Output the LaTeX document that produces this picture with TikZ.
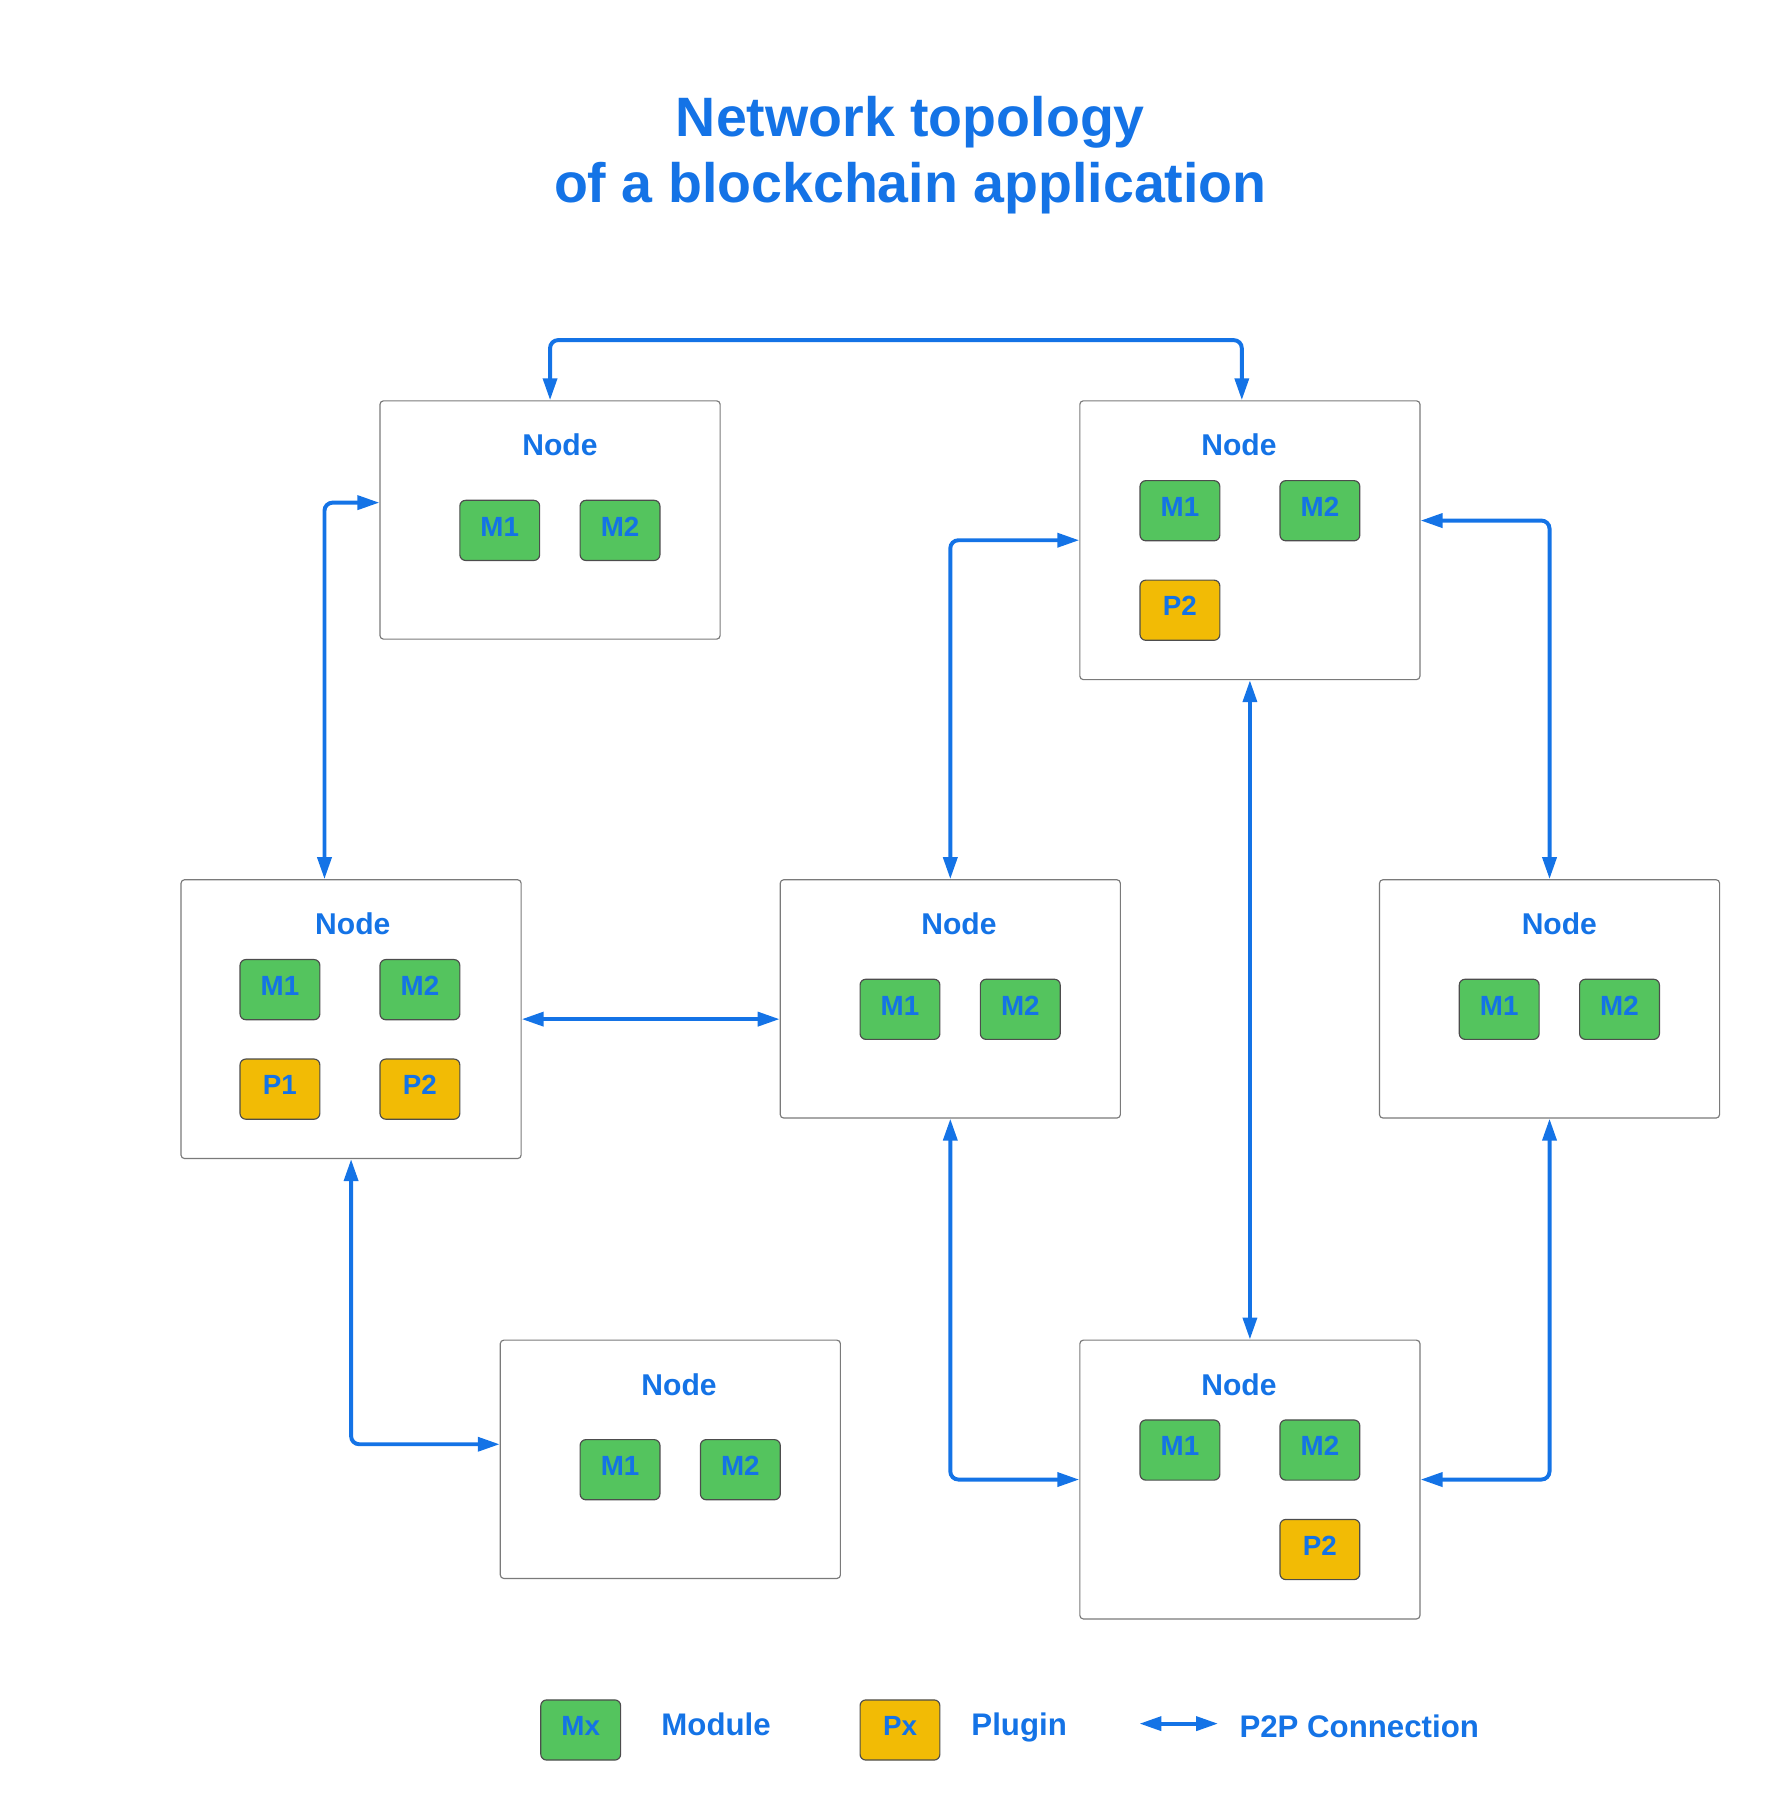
\documentclass[tikz,border=0pt]{standalone}
\usepackage{fontspec}
\setmainfont{Liberation Sans}
\usetikzlibrary{arrows.meta}

\definecolor{netblue}{HTML}{1473E6}
\definecolor{modgreen}{HTML}{54C45E}
\definecolor{plugyellow}{HTML}{F2BB05}
\definecolor{boxgray}{HTML}{7A7A7A}
\definecolor{modgray}{HTML}{4D4D4D}

\tikzstyle{nd} = [draw=boxgray, line width=1pt, rounded corners=3pt, minimum width=294pt, anchor=north west, inner sep=0pt]
\tikzstyle{ndt} = [text=netblue, anchor=base, font=\fontsize{26}{31}\selectfont\bfseries]
\tikzstyle{md} = [draw=modgray, line width=1pt, fill=modgreen, rounded corners=5pt, minimum width=69pt, minimum height=52pt, anchor=north west, inner sep=0pt, text height=18pt, text depth=8pt, text=netblue, font=\fontsize{24}{29}\selectfont\bfseries]
\tikzstyle{pl} = [md, fill=plugyellow]
\tikzstyle{lgt} = [text=netblue, anchor=base, font=\fontsize{27}{32}\selectfont\bfseries]
\tikzstyle{p2p} = [draw=netblue, line width=3.4pt, rounded corners=7pt, {Triangle[length=19pt,width=12pt]}-{Triangle[length=19pt,width=12pt]}]

\begin{document}
\begin{tikzpicture}[x=1pt, y=-1pt]
    \useasboundingbox (0,0) rectangle (1538,1569);
    \node[text=netblue, align=center, font=\fontsize{48}{57}\selectfont\bfseries] (title) at (787,134)
      {Network topology\\of a blockchain application};

    \node[nd, minimum height=206pt] (A) at (328,346) {};
    \node[ndt] (At) at (484,394) {Node};
    \node[md] (A1) at (397,432) {M1};
    \node[md] (A2) at (501,432) {M2};

    \node[nd, minimum height=241pt] (B) at (933,346) {};
    \node[ndt] (Bt) at (1071,394) {Node};
    \node[md] (B1) at (985,415) {M1};
    \node[md] (B2) at (1106,415) {M2};
    \node[pl] (B3) at (985,501) {P2};

    \node[nd, minimum height=241pt] (C) at (156,760) {};
    \node[ndt] (Ct) at (305,808) {Node};
    \node[md] (C1) at (207,829) {M1};
    \node[md] (C2) at (328,829) {M2};
    \node[pl] (C3) at (207,915) {P1};
    \node[pl] (C4) at (328,915) {P2};

    \node[nd, minimum height=206pt] (D) at (674,760) {};
    \node[ndt] (Dt) at (829,808) {Node};
    \node[md] (D1) at (743,846) {M1};
    \node[md] (D2) at (847,846) {M2};

    \node[nd, minimum height=206pt] (E) at (1192,760) {};
    \node[ndt] (Et) at (1348,808) {Node};
    \node[md] (E1) at (1261,846) {M1};
    \node[md] (E2) at (1365,846) {M2};

    \node[nd, minimum height=206pt] (F) at (432,1158) {};
    \node[ndt] (Ft) at (587,1206) {Node};
    \node[md] (F1) at (501,1244) {M1};
    \node[md] (F2) at (605,1244) {M2};

    \node[nd, minimum height=241pt] (G) at (933,1158) {};
    \node[ndt] (Gt) at (1071,1206) {Node};
    \node[md] (G1) at (985,1227) {M1};
    \node[md] (G2) at (1106,1227) {M2};
    \node[pl] (G3) at (1106,1313) {P2};

    \draw[p2p] (A.north) -- ++(0,-52) -| ([xshift=-7pt]B.north);
    \draw[p2p] ([yshift=15pt]A.west) -| ([xshift=-23pt]C.north);
    \draw[p2p] (C.east) -- (C.east -| D.west);
    \draw[p2p] (C.south) |- ([yshift=13pt]F.west);
    \draw[p2p] (D.north) |- (B.west);
    \draw[p2p] (B.south) -- (G.north);
    \draw[p2p] ([yshift=17pt]B.east) -| (E.north);
    \draw[p2p] (D.south) |- (G.west);
    \draw[p2p] (E.south) |- (G.east);

    \node[md] (lgm) at (467,1469) {Mx};
    \node[lgt] (lgmt) at (619,1500) {Module};
    \node[pl] (lgp) at (743,1469) {Px};
    \node[lgt] (lgpt) at (881,1500) {Plugin};
    \coordinate (lga) at (985,1490);
    \coordinate (lgb) at (1053,1490);
    \draw[p2p] (lga) -- (lgb);
    \node[lgt] (lgct) at (1175,1502) {P2P Connection};
  \end{tikzpicture}
\end{document}
